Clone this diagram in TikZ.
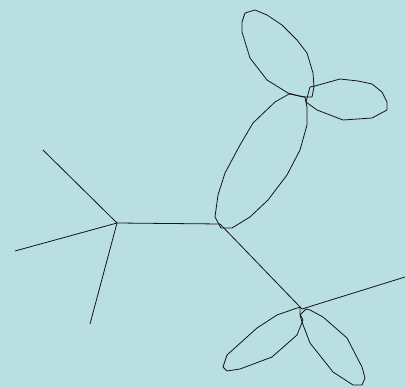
\documentclass[tikz,border=0pt]{standalone}
\usepackage{tikz}
\definecolor{bgcyan}{RGB}{185,223,227}
\definecolor{linedark}{RGB}{20,20,20}
\tikzset{
  prop/.style={line width=0.8pt, color=linedark},
  loopline/.style={line width=0.8pt, color=linedark, line join=round}
}
\begin{document}
\begin{tikzpicture}[x=1pt, y=-1pt]
  % Background
  \fill[bgcyan] (0,0) rectangle (405,387);
  \useasboundingbox (0,0) rectangle (405,387);

  % Vertices
  \coordinate (va) at (117,223);
  \coordinate (vb) at (220,224);
  \coordinate (vc) at (305,97);
  \coordinate (vd) at (302,309);

  % External legs
  \coordinate (la) at (43,150);
  \coordinate (lb) at (15,251);
  \coordinate (lc) at (90,324);
  \coordinate (ld) at (405,277);

  \draw[prop] (va) -- (la);
  \draw[prop] (va) -- (lb);
  \draw[prop] (va) -- (lc);
  \draw[prop] (va) -- (vb);
  \draw[prop] (vb) -- (vd);
  \draw[prop] (vd) -- (ld);

  % Loop between vb and vc
  \draw[loopline] (221,228) -- (215,217) -- (218,195) -- (225,173) -- (240,145)
    -- (253,123) -- (275,102) -- (289,94) -- (305,97) -- (307,107) -- (307,125)
    -- (300,150) -- (287,175) -- (268,200) -- (250,217) -- (232,228) -- cycle;

  % Loops at vc
  \draw[loopline] (303,97) -- (288,93) -- (267,80) -- (250,58) -- (242,32)
    -- (242,22) -- (245,13) -- (255,10) -- (267,15) -- (282,25) -- (297,40)
    -- (307,53) -- (313,73) -- (314,87) -- (312,97) -- cycle;
  \draw[loopline] (306,102) -- (310,87) -- (315,86) -- (340,79) -- (358,81)
    -- (372,84) -- (382,92) -- (387,102) -- (387,110) -- (372,118) -- (343,120)
    -- (317,110) -- cycle;

  % Loops at vd
  \draw[loopline] (300,307) -- (277,315) -- (257,328) -- (227,355) -- (223,367)
    -- (227,371) -- (240,369) -- (272,357) -- (297,335) -- (303,320)
    -- (300,314) -- cycle;
  \draw[loopline] (306,309) -- (310,310) -- (323,317) -- (347,338) -- (362,367)
    -- (365,378) -- (362,385) -- (353,385) -- (333,372) -- (310,343)
    -- (302,322) -- (300,315) -- cycle;
\end{tikzpicture}
\end{document}
